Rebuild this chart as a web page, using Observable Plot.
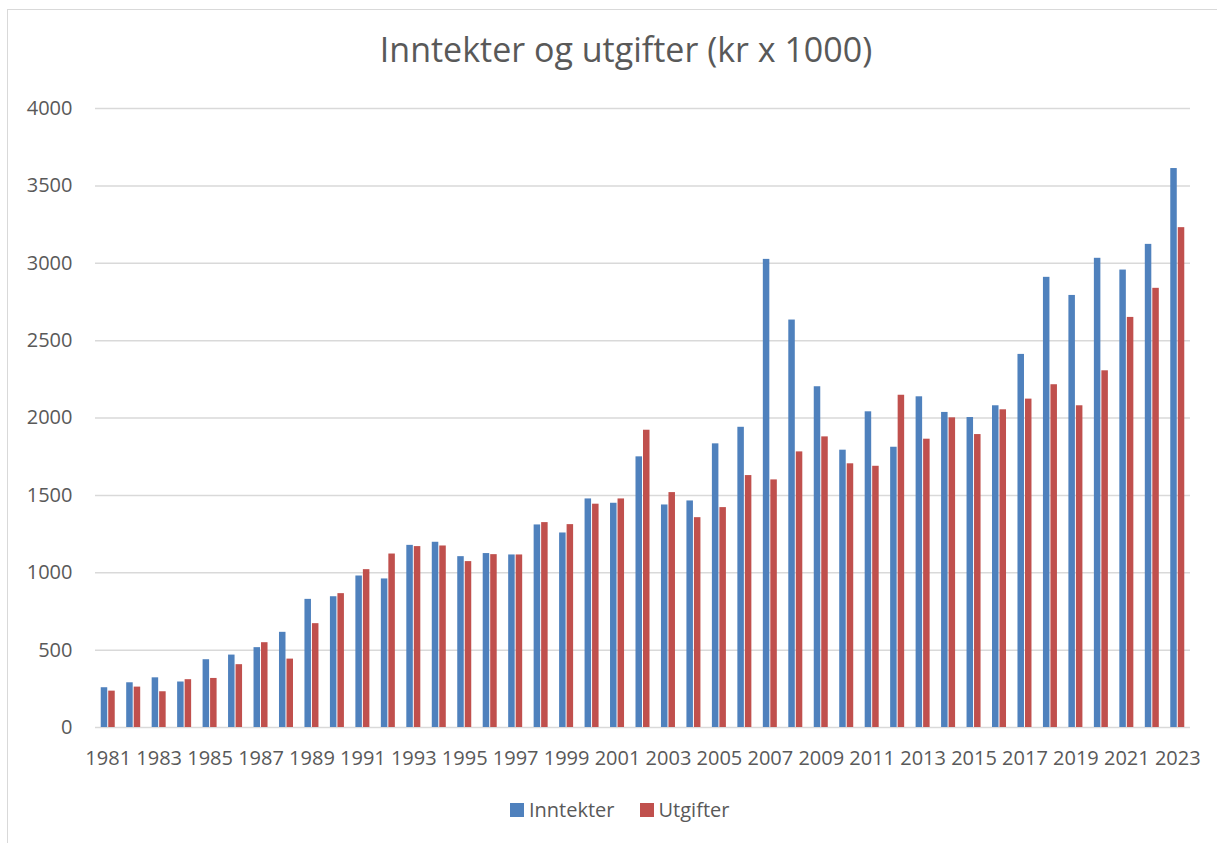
<!DOCTYPE html>
<html>
<head>
<meta charset="utf-8">
<script src="https://cdn.jsdelivr.net/npm/d3@7"></script>
<script src="https://cdn.jsdelivr.net/npm/@observablehq/plot@0.6"></script>
<style>
  html, body { margin: 0; padding: 0; background: #fff; overflow: hidden; width: 1217px; height: 843px; }
  #frame { position: absolute; left: 7px; top: 9px; width: 1240px; height: 900px; border: 1px solid #d9d9d9; box-sizing: border-box; }
  #title { position: absolute; left: 0; top: 28px; width: 1252px; text-align: center; font-family: "Open Sans", sans-serif; font-size: 34px; line-height: 43px; color: #595959; }
  #chart { position: absolute; left: 0; top: 90px; }
  #legend { position: absolute; left: 510px; top: 798px; display: flex; align-items: center; font-family: "Open Sans", sans-serif; font-size: 20px; line-height: 24px; color: #595959; }
  .sw { display: inline-block; width: 14px; height: 14px; margin-right: 5px; }
  .item { display: flex; align-items: center; margin-right: 25px; }
</style>
</head>
<body>
<div id="frame"></div>
<div id="title">Inntekter og utgifter (kr x 1000)</div>
<div id="chart"></div>
<div id="legend"></div>
<script>
const years = [1981,1982,1983,1984,1985,1986,1987,1988,1989,1990,1991,1992,1993,1994,1995,1996,1997,1998,1999,2000,2001,2002,2003,2004,2005,2006,2007,2008,2009,2010,2011,2012,2013,2014,2015,2016,2017,2018,2019,2020,2021,2022,2023];
const inntekter = [257,289,321,294,438,468,516,615,828,845,979,960,1177,1197,1104,1124,1115,1309,1257,1477,1449,1749,1438,1464,1833,1940,3025,2633,2202,1792,2040,1811,2137,2036,2003,2079,2411,2909,2792,3032,2956,3122,3612];
const utgifter = [235,261,231,309,317,406,548,442,671,865,1020,1121,1169,1173,1072,1117,1115,1324,1311,1443,1477,1921,1518,1356,1421,1628,1600,1781,1878,1704,1688,2147,1863,2001,1893,2053,2122,2215,2079,2305,2650,2838,3230];
const xTickLabels = [1981,1983,1985,1987,1989,1991,1993,1995,1997,1999,2001,2003,2005,2007,2009,2011,2013,2015,2017,2019,2021,2023];
const yTicks = [0,500,1000,1500,2000,2500,3000,3500,4000];
const seriesNames = ["Inntekter", "Utgifter"];
const colors = ["#4F81BD", "#C0504D"];

const rows = years.map((y, i) => ({year: y, inntekter: inntekter[i], utgifter: utgifter[i]}));

const chart = Plot.plot({
  width: 1217,
  height: 690,
  marginTop: 18,
  marginBottom: 53,
  marginLeft: 95,
  marginRight: 27,
  style: {fontFamily: "'Open Sans', sans-serif", fontSize: "20px", color: "#595959", background: "transparent"},
  x: {type: "band", domain: years, paddingInner: 0.45, paddingOuter: 0.225, round: false, axis: null},
  y: {domain: [0, 4000], axis: null},
  marks: [
    Plot.ruleY(yTicks, {stroke: "#d9d9d9", strokeWidth: 1.5}),
    Plot.barY(rows, {x: "year", y: "inntekter", fill: colors[0], insetRight: 7.5}),
    Plot.barY(rows, {x: "year", y: "utgifter", fill: colors[1], insetLeft: 7.5}),
    Plot.axisX({ticks: xTickLabels, tickSize: 0, tickPadding: 23, tickFormat: d => String(d), fontSize: 20, label: null}),
    Plot.axisY({ticks: yTicks, tickSize: 0, tickPadding: 23, tickFormat: d => String(d), fontSize: 20, label: null})
  ]
});
document.getElementById("chart").appendChild(chart);

const legend = document.getElementById("legend");
seriesNames.forEach((name, i) => {
  const item = document.createElement("span");
  item.className = "item";
  const sw = document.createElement("span");
  sw.className = "sw";
  sw.style.background = colors[i];
  item.appendChild(sw);
  item.appendChild(document.createTextNode(name));
  legend.appendChild(item);
});
</script>
</body>
</html>
